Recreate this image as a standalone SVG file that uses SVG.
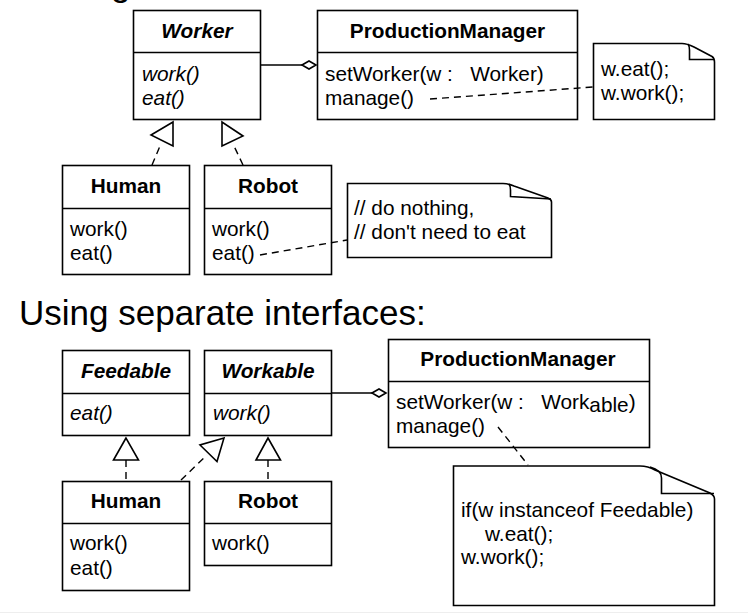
<svg xmlns="http://www.w3.org/2000/svg" width="748" height="613" viewBox="0 0 748 613">
<style>
.box{fill:#fff;stroke:#000;stroke-width:1.6}
.ln{fill:none;stroke:#000;stroke-width:1.6}
.dash{fill:none;stroke:#000;stroke-width:1.4;stroke-dasharray:7,5}
.tri{fill:#fff;stroke:#000;stroke-width:1.6;stroke-linejoin:miter}
.dia{fill:#fff;stroke:#000;stroke-width:1.6}
text{font-family:"Liberation Sans",Arial,sans-serif;font-size:20.8px;fill:#000}
.t{font-weight:bold;text-anchor:middle}
.i{font-style:italic}
.h{font-size:35px}
</style>
<rect width="748" height="613" fill="#fff"/>
<line x1="0" y1="612.5" x2="748" y2="612.5" stroke="#eeeeee" stroke-width="1"/>
<text class="h" x="111" y="-4">g</text>
<text class="h" x="19" y="325">Using separate interfaces:</text>

<g id="worker">
  <rect class="box" x="133.5" y="10.5" width="127" height="109"/>
  <line class="ln" x1="133.5" y1="52.5" x2="260.5" y2="52.5"/>
  <text class="t i" x="197" y="37.5">Worker</text>
  <text class="i" x="142" y="80.5">work()</text>
  <text class="i" x="142" y="104.5">eat()</text>
</g>

<g id="pm1">
  <rect class="box" x="317.5" y="10.5" width="260" height="109"/>
  <line class="ln" x1="317.5" y1="52.5" x2="577.5" y2="52.5"/>
  <text class="t" x="447.5" y="37.5">ProductionManager</text>
  <text x="325" y="80.5">setWorker(w :&#160;&#160; Worker)</text>
  <text x="325" y="104.5">manage()</text>
</g>

<g id="note1">
  <path class="box" d="M593.5,43.5 H682 Q687,43.5 694,47 L712,56.5 Q714.5,58 714.5,62 V119.5 H593.5 Z"/>
  <path class="ln" d="M688,44 Q689.5,46 689.5,50 V59.5 H714"/>
  <text x="601" y="76">w.eat();</text>
  <text x="601" y="100">w.work();</text>
</g>

<g id="human1">
  <rect class="box" x="62.5" y="165.5" width="127" height="109"/>
  <line class="ln" x1="62.5" y1="208.5" x2="189.5" y2="208.5"/>
  <text class="t" x="126" y="192.5">Human</text>
  <text x="70" y="236">work()</text>
  <text x="70" y="260">eat()</text>
</g>

<g id="robot1">
  <rect class="box" x="204.5" y="165.5" width="127" height="109"/>
  <line class="ln" x1="204.5" y1="208.5" x2="331.5" y2="208.5"/>
  <text class="t" x="268" y="192.5">Robot</text>
  <text x="212" y="236">work()</text>
  <text x="212" y="260">eat()</text>
</g>

<g id="note2">
  <path class="box" d="M347.5,183.5 H503 Q508,183.5 514,186 L548,198 Q551.5,199.5 551.5,202 V257.5 H347.5 Z"/>
  <path class="ln" d="M509,184 Q510.5,186 510.5,190 V196.5 L551,199"/>
  <text x="354" y="214.5">// do nothing,</text>
  <text x="354" y="238.5">// don't need to eat</text>
</g>

<g id="feedable">
  <rect class="box" x="62.5" y="350.5" width="127" height="85"/>
  <line class="ln" x1="62.5" y1="393.5" x2="189.5" y2="393.5"/>
  <text class="t i" x="126" y="378">Feedable</text>
  <text class="i" x="70" y="420">eat()</text>
</g>

<g id="workable">
  <rect class="box" x="204.5" y="350.5" width="127" height="85"/>
  <line class="ln" x1="204.5" y1="393.5" x2="331.5" y2="393.5"/>
  <text class="t i" x="268" y="378">Workable</text>
  <text class="i" x="213" y="420">work()</text>
</g>

<g id="pm2">
  <rect class="box" x="388.5" y="339.5" width="261" height="108"/>
  <line class="ln" x1="388.5" y1="381.5" x2="649.5" y2="381.5"/>
  <text class="t" x="518" y="366">ProductionManager</text>
  <text x="396" y="409">setWorker(w :&#160;&#160; Work<tspan dy="3">able</tspan><tspan dy="-3">)</tspan></text>
  <text x="396" y="433">manage()</text>
</g>

<g id="note3">
  <path class="box" d="M453.5,466 H640 Q648,466 655,470 L710,493 Q714.5,495.5 714.5,499 V605.5 H453.5 Z"/>
  <path class="ln" d="M650,467 Q661.5,470 661.5,478 V493.5 H714"/>
  <text x="461" y="517">if(w instanceof Feedable)</text>
  <text x="485" y="541">w.eat();</text>
  <text x="461" y="564">w.work();</text>
</g>

<g id="human2">
  <rect class="box" x="62.5" y="481.5" width="127" height="109"/>
  <line class="ln" x1="62.5" y1="523.5" x2="189.5" y2="523.5"/>
  <text class="t" x="126" y="508">Human</text>
  <text x="70" y="550">work()</text>
  <text x="70" y="574.5">eat()</text>
</g>

<g id="robot2">
  <rect class="box" x="204.5" y="481.5" width="127" height="84"/>
  <line class="ln" x1="204.5" y1="523.5" x2="331.5" y2="523.5"/>
  <text class="t" x="268" y="508">Robot</text>
  <text x="212" y="550">work()</text>
</g>

<g id="connectors">
  <line class="ln" x1="261" y1="65" x2="302" y2="65"/>
  <polygon class="dia" points="302,65 309,61 316,65 309,69"/>
  <path class="dash" d="M430,99 L593,87"/>
  <path class="dash" d="M152,165 L160,146"/>
  <polygon class="tri" points="173,122 151,135 173,146"/>
  <path class="dash" d="M243,165 L234,146"/>
  <polygon class="tri" points="222,122 222,146 243,136"/>
  <path class="dash" d="M260,255 L347,240"/>
  <line class="ln" x1="332" y1="393" x2="372" y2="393"/>
  <polygon class="dia" points="372,393 379,389 386,393 379,397"/>
  <path class="dash" d="M498,427 L528,465"/>
  <path class="dash" d="M126,460 V481"/>
  <polygon class="tri" points="126,438 113.5,460 138.5,460"/>
  <path class="dash" d="M268,460 V481"/>
  <polygon class="tri" points="268,438 256,460 280.5,460"/>
  <path class="dash" d="M181,480 L207,455"/>
  <polygon class="tri" points="224,438 200,445 217,461.5"/>
</g>
</svg>
